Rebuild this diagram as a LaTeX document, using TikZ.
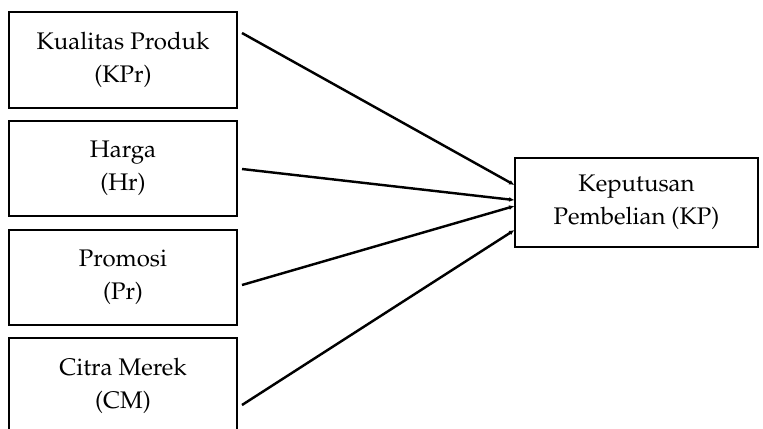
\documentclass[tikz,border=0pt]{standalone}
\usepackage[T1]{fontenc}
\usepackage{mathpazo}
\usetikzlibrary{arrows.meta,positioning}

\begin{document}
\begin{tikzpicture}[
  x=0.45pt, y=-0.45pt,
  node distance=5pt,
  box/.style={draw,line width=0.9pt,align=center,inner sep=0pt,
    minimum width=103pt,minimum height=43pt,
    font=\fontsize{10.8}{14.85}\selectfont},
  arrow/.style={-{Latex[length=2.4pt,width=2.2pt]},line width=1.1pt}
]
\useasboundingbox (0,0) rectangle (763,428);
\clip (0,0) rectangle (763,428);
\node[box] (kpr) at (123,60) {Kualitas Produk\\(KPr)};
\node[box,below=of kpr] (hr) {Harga\\(Hr)};
\node[box,below=of hr] (pr) {Promosi\\(Pr)};
\node[box,below=of pr] (cm) {Citra Merek\\(CM)};
\node[box,minimum width=109pt,minimum height=40pt] (kp) at (636.5,202.5) {Keputusan\\Pembelian (KP)};
\coordinate (kpr out) at (242,33);
\coordinate (hr out) at (242,169);
\coordinate (pr out) at (242,285);
\coordinate (cm out) at (242,405);
\draw[arrow] (kpr out)--([yshift=7.9pt]kp.west);
\draw[arrow] (hr out)--([yshift=1.1pt]kp.west);
\draw[arrow] (pr out)--([yshift=-1.6pt]kp.west);
\draw[arrow] (cm out)--([yshift=-12.4pt]kp.west);
\end{tikzpicture}
\end{document}
